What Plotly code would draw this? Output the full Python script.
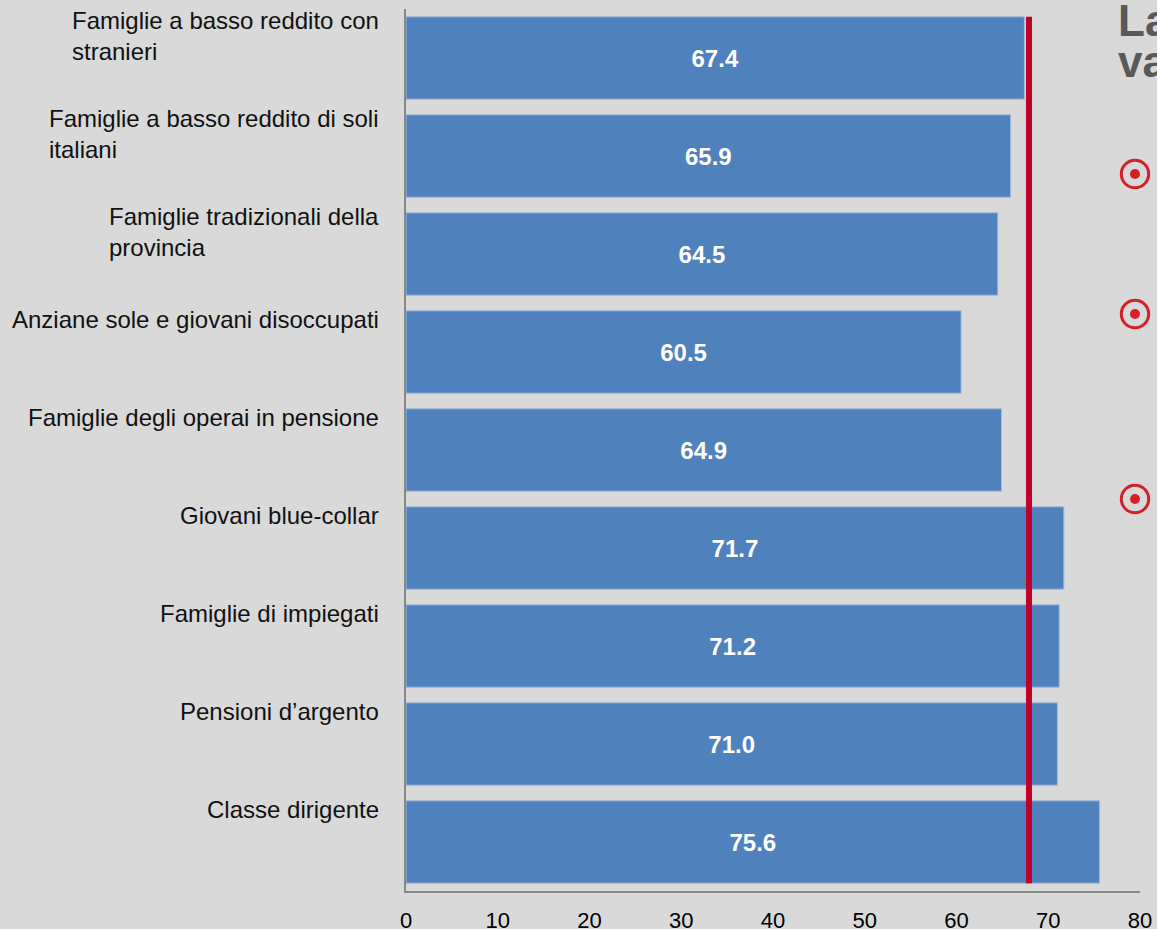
import plotly.graph_objects as go

categories = [
    "Famiglie a basso reddito con<br>stranieri",
    "Famiglie a basso reddito di soli<br>italiani",
    "Famiglie tradizionali della<br>provincia",
    "Anziane sole e giovani disoccupati",
    "Famiglie degli operai in pensione",
    "Giovani blue-collar",
    "Famiglie di impiegati",
    "Pensioni d\u2019argento",
    "Classe dirigente",
]
values = [67.4, 65.9, 64.5, 60.5, 64.9, 71.7, 71.2, 71.0, 75.6]
reference_value = 67.9
x_ticks = [0, 10, 20, 30, 40, 50, 60, 70, 80]
side_title_lines = ["La", "va"]

BG = "#d9d9d9"
BAR = "#4f81bd"
RED = "#c0002a"
BULLET = "#d42027"
AXIS = "#888888"
FONT = "Liberation Sans, Arial, sans-serif"
BARGAP = 0.16

W, H = 1157, 929
ML, MR, MT, MB = 406, 17, 9, 38

idx = list(range(len(categories)))

fig = go.Figure()
fig.add_trace(go.Bar(
    x=values,
    y=idx,
    orientation="h",
    marker=dict(color=BAR, line=dict(color="#a4bad8", width=1)),
    text=values,
    texttemplate="%{x:.1f}",
    textposition="inside",
    insidetextanchor="middle",
    textangle=0,
    textfont=dict(family=FONT, size=24, color="white", weight="bold"),
    hoverinfo="skip",
))

half = (1 - BARGAP) / 2
fig.add_shape(type="line", xref="x", yref="y",
              x0=reference_value, x1=reference_value,
              y0=idx[0] - half, y1=idx[-1] + half,
              line=dict(color=RED, width=6))

# category labels: block right-anchored, lines left-aligned, near top of each slot
for i, lab in zip(idx, categories):
    n = lab.count("<br>") + 1
    center = 16 if n == 1 else 26.5
    fig.add_annotation(
        xref="paper", yref="y", x=0, y=i - 0.5,
        xanchor="right", yanchor="middle",
        xshift=-25, yshift=-center,
        text=lab, showarrow=False, align="left",
        font=dict(family=FONT, size=24, color="#111111"),
    )

pw = W - ML - MR
ph = H - MT - MB

def px_to_paper_x(px):
    return (px - ML) / pw

def px_to_paper_y(py):
    return 1 - (py - MT) / ph

for j, t in enumerate(side_title_lines):
    fig.add_annotation(
        xref="paper", yref="paper", x=px_to_paper_x(1116), y=px_to_paper_y(20 + 41 * j),
        xanchor="left", yanchor="middle", text="<b>" + t + "</b>",
        showarrow=False, align="left",
        font=dict(family=FONT, size=44, color="#595959"),
    )

for by in [174, 314, 499]:
    cx, cy = px_to_paper_x(1135), px_to_paper_y(by)
    fig.add_shape(type="circle", xref="paper", yref="paper",
                  xsizemode="pixel", ysizemode="pixel", xanchor=cx, yanchor=cy,
                  x0=-13.7, x1=13.7, y0=-13.7, y1=13.7,
                  line=dict(color=BULLET, width=3), fillcolor="rgba(0,0,0,0)")
    fig.add_shape(type="circle", xref="paper", yref="paper",
                  xsizemode="pixel", ysizemode="pixel", xanchor=cx, yanchor=cy,
                  x0=-5, x1=5, y0=-5, y1=5,
                  line=dict(color=BULLET, width=0), fillcolor=BULLET)

fig.update_layout(
    width=W, height=H, autosize=False,
    margin=dict(l=ML, r=MR, t=MT, b=MB, pad=0),
    paper_bgcolor=BG, plot_bgcolor=BG,
    bargap=BARGAP, showlegend=False,
    font=dict(family=FONT, color="#000000"),
)
fig.update_xaxes(
    range=[0, 80], tickvals=x_ticks, ticktext=[str(t) for t in x_ticks],
    showgrid=False, zeroline=False, showline=True, linecolor=AXIS, linewidth=2,
    ticks="", tickfont=dict(family=FONT, size=22, color="#000000"),
    ticklabelstandoff=9, automargin=False, fixedrange=True,
)
fig.update_yaxes(
    range=[len(categories) - 0.5, -0.5], showticklabels=False,
    showgrid=False, zeroline=False, showline=True, linecolor=AXIS, linewidth=2,
    ticks="", automargin=False, fixedrange=True,
)

post = """
document.body.style.margin = '0';
document.body.style.background = '%s';
document.body.style.overflow = 'hidden';
""" % BG

fig.write_html("out.html", config={"displayModeBar": False}, post_script=post)
